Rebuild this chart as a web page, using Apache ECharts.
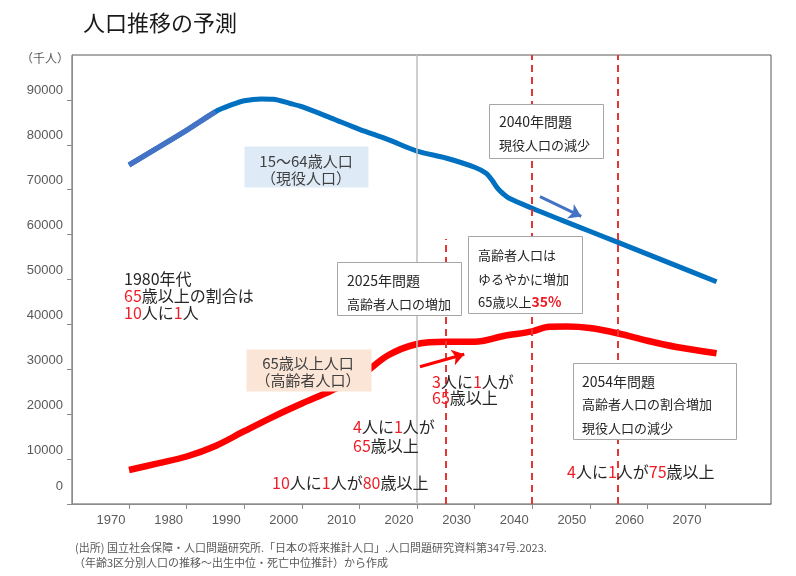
<!DOCTYPE html>
<html>
<head>
<meta charset="utf-8">
<script src="https://cdn.jsdelivr.net/npm/echarts@6/dist/echarts.min.js"></script>
<style>
html,body{margin:0;padding:0;background:#fff;}
#chart{width:796px;height:576px;}
</style>
</head>
<body>
<div id="chart"></div>
<script>
// ---- data (thousand persons) ----
const xTickYears = [1970, 1980, 1990, 2000, 2010, 2020, 2030, 2040, 2050, 2060, 2070];
const yTicks = [0, 10000, 20000, 30000, 40000, 50000, 60000, 70000, 80000, 90000];

// 15-64 population; the first points (to 1985) drawn in lighter blue
const actualPointCount = 4;
const workingYears = [1970, 1975, 1980, 1985, 1988, 1990, 1993, 1995, 1998, 2000, 2005, 2010, 2015, 2020, 2025, 2030, 2032, 2033, 2034, 2035, 2036, 2040, 2045, 2050, 2055, 2060, 2065, 2072];
const workingPop = [75500, 79350, 83230, 87370, 89000, 89820, 90200, 90130, 89200, 88480, 86010, 83450, 81160, 78600, 77060, 75000, 73650, 72160, 70310, 69040, 68080, 65860, 63270, 60740, 58200, 55640, 53090, 49510];

// 65+ population
const elderlyYears = [1970, 1975, 1980, 1985, 1990, 1995, 2000, 2005, 2010, 2015, 2020, 2025, 2030, 2035, 2040, 2043, 2046, 2050, 2055, 2060, 2065, 2072];
const elderlyPop = [7570, 9040, 10580, 12920, 16210, 19420, 22380, 25170, 28350, 33120, 35630, 36150, 36150, 37420, 38460, 39490, 39530, 39200, 37970, 36350, 34970, 33560];

const guideSolidYear = 2020;
const guideDashYears = [2024.9, 2040, 2054.8];
const guideDashTops = [59000, 100000, 100000];

const blueArrow = [[2041.35, 68440], [2048.5, 64040]];
const redArrow = [[2020.5, 30580], [2028.2, 33340]];

// ---- styles ----
const FONT = '"Noto Sans CJK JP", "Noto Sans", sans-serif';
const RED = '#ee1c25';
const INK = '#262626';

function zip(xs, ys) { return xs.map((x, i) => [x, ys[i]]); }

const chart = echarts.init(document.getElementById('chart'), null, { renderer: 'canvas' });

function txt(x, y, text, size, opt) {
  opt = opt || {};
  return {
    type: 'text', z: 100,
    style: {
      x: x, y: y, text: text,
      font: (opt.weight || 'normal') + ' ' + size + 'px ' + FONT,
      fill: opt.color || INK,
      textAlign: opt.align || 'left', align: opt.align || 'left',
      textVerticalAlign: 'middle', verticalAlign: 'middle',
      rich: {
        r: { fill: RED, color: RED, font: 'normal ' + size + 'px ' + FONT },
        rb: { fill: RED, color: RED, font: 'bold ' + (size + 1) + 'px ' + FONT }
      }
    }
  };
}
function box(x, y, w, h, fill, stroke) {
  return {
    type: 'rect', z: 99,
    shape: { x: x + 0.5, y: y + 0.5, width: w, height: h },
    style: { fill: fill, stroke: stroke || null, lineWidth: stroke ? 1 : 0 }
  };
}

const guideLines = [
  [{ coord: [guideSolidYear, 0], lineStyle: { color: '#bfbfbf', width: 1.5, type: 'solid' } }, { coord: [guideSolidYear, 100000] }]
].concat(guideDashYears.map((yr, i) => [
  { coord: [yr, 0], lineStyle: { color: '#e53535', width: 2, type: [7, 5] } },
  { coord: [yr, guideDashTops[i]] }
]));

const workingAll = zip(workingYears, workingPop);

const option = {
  animation: false,
  backgroundColor: '#fff',
  grid: { left: 72, right: 25, top: 55, bottom: 72, show: true, borderColor: '#595959', borderWidth: 1, backgroundColor: 'transparent' },
  xAxis: {
    type: 'value', min: 1960.1, max: 2081.45,
    axisLine: { show: true, onZero: false, lineStyle: { color: '#8c8c8c', width: 1 } },
    axisTick: { show: true, customValues: xTickYears, length: 5, lineStyle: { color: '#8c8c8c' } },
    axisLabel: {
      customValues: xTickYears.map(v => v - 3.125),
      formatter: v => String(Math.round(v + 3.125)),
      margin: 10, color: '#595959', fontSize: 13, fontFamily: '"Liberation Sans", Arial, sans-serif'
    },
    splitLine: { show: false }
  },
  yAxis: {
    type: 'value', min: 0, max: 100000, interval: 10000,
    axisLine: { show: true, lineStyle: { color: '#8c8c8c', width: 1 } },
    axisTick: { show: true, customValues: yTicks, length: 5, lineStyle: { color: '#8c8c8c' } },
    axisLabel: {
      customValues: yTicks,
      formatter: v => v === 0 ? '{z|0}' : '{n|' + v + '}',
      margin: 9, color: '#595959', fontSize: 13, fontFamily: '"Liberation Sans", Arial, sans-serif',
      rich: {
        n: { padding: [0, 0, 18, 0], fontSize: 13, color: '#595959' },
        z: { padding: [0, 0, 36, 0], fontSize: 13, color: '#595959' }
      }
    },
    splitLine: { show: false }
  },
  series: [
    {
      name: 'guides', type: 'line', data: [], z: 1, silent: true,
      markLine: { silent: true, symbol: ['none', 'none'], label: { show: false }, emphasis: { disabled: true }, data: guideLines }
    },
    {
      name: '15-64', type: 'line', data: workingAll, z: 3,
      showSymbol: false, symbol: 'none', smooth: 0.3,
      lineStyle: { color: '#0070c0', width: 5, cap: 'butt' }
    },
    {
      name: '15-64 actual', type: 'line', data: workingAll.slice(0, actualPointCount), z: 4,
      showSymbol: false, symbol: 'none', smooth: false,
      lineStyle: { color: '#4472c4', width: 5.4, cap: 'butt' }
    },
    {
      name: '65+', type: 'line', data: zip(elderlyYears, elderlyPop), z: 3,
      showSymbol: false, symbol: 'none', smooth: 0.35,
      lineStyle: { color: '#ff0000', width: 6.5, cap: 'butt' }
    },
    {
      name: 'arrows', type: 'line', data: [], z: 5, silent: true,
      markLine: {
        silent: true, symbol: ['none', 'arrow'], symbolSize: 12, label: { show: false }, emphasis: { disabled: true },
        data: [
          [{ coord: blueArrow[0], lineStyle: { color: '#4472c4', width: 3, type: 'solid' }, itemStyle: { color: '#4472c4' } }, { coord: blueArrow[1] }],
          [{ coord: redArrow[0], lineStyle: { color: '#ff0000', width: 3, type: 'solid' }, itemStyle: { color: '#ff0000' } }, { coord: redArrow[1] }]
        ]
      }
    }
  ],
  graphic: [
    txt(83, 23, '人口推移の予測', 22, { color: '#1a1a1a' }),
    txt(21, 58, '（千人）', 12, { color: '#595959' }),

    box(244, 146, 124, 41, '#deebf7'),
    txt(306, 161, '15～64歳人口', 15, { align: 'center', color: '#404040' }),
    txt(306, 178, '（現役人口）', 15, { align: 'center', color: '#404040' }),

    box(246, 349, 125, 42, '#fbe5d6'),
    txt(308, 363, '65歳以上人口', 15, { align: 'center', color: '#404040' }),
    txt(308, 380, '（高齢者人口）', 15, { align: 'center', color: '#404040' }),

    txt(124, 279, '1980年代', 16),
    txt(124, 296, '{r|65}歳以上の割合は', 16),
    txt(124, 313, '{r|10}人に{r|1}人', 16),

    box(337, 262, 124, 53, '#ffffff', '#a6a6a6'),
    txt(347, 281, '2025年問題', 14),
    txt(347, 304, '高齢者人口の増加', 13),

    box(468, 236, 114, 77, '#ffffff', '#a6a6a6'),
    txt(478, 255, '高齢者人口は', 13),
    txt(478, 279, 'ゆるやかに増加', 13),
    txt(478, 302, '65歳以上{rb|35%}', 13),

    box(489, 104, 114, 54, '#ffffff', '#a6a6a6'),
    txt(499, 122, '2040年問題', 14),
    txt(499, 145, '現役人口の減少', 13),

    box(573, 363, 163, 76, '#ffffff', '#a6a6a6'),
    txt(582, 382, '2054年問題', 14),
    txt(582, 404, '高齢者人口の割合増加', 13),
    txt(582, 428, '現役人口の減少', 13),

    txt(432, 382, '{r|3}人に{r|1}人が', 16),
    txt(432, 398, '{r|65}歳以上', 16),
    txt(353, 427, '{r|4}人に{r|1}人が', 16),
    txt(353, 446, '{r|65}歳以上', 16),
    txt(272, 483, '{r|10}人に{r|1}人が{r|80}歳以上', 16),
    txt(567, 472, '{r|4}人に{r|1}人が{r|75}歳以上', 16),

    txt(75, 548, '(出所) 国立社会保障・人口問題研究所.「日本の将来推計人口」.人口問題研究資料第347号.2023.', 11, { color: '#595959' }),
    txt(74, 563, '（年齢3区分別人口の推移～出生中位・死亡中位推計）から作成', 11, { color: '#595959' })
  ]
};
chart.setOption(option);
</script>
</body>
</html>
